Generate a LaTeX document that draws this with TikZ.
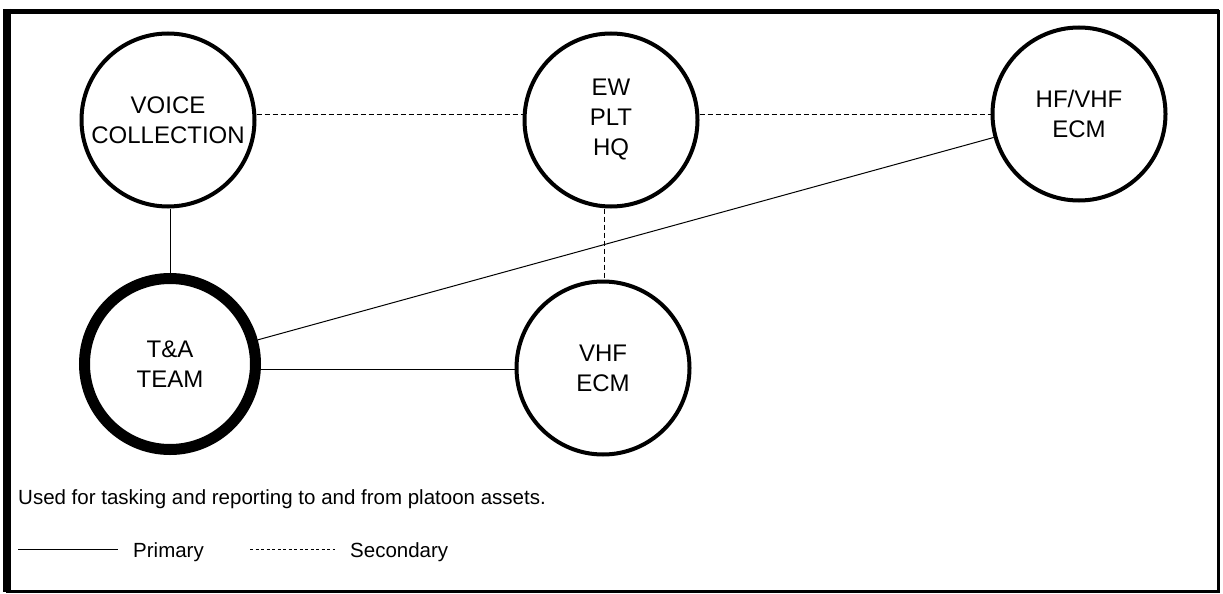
\documentclass[tikz,border=0pt]{standalone}
\usepackage{fontspec}
\setmainfont{Liberation Sans}
\begin{document}
\begin{tikzpicture}[x=1pt,y=-1pt,
  unit/.style={circle,draw,line width=4pt,minimum size=173pt,inner sep=0pt,align=center,font=\fontsize{24}{30}\selectfont},
  team/.style={unit,line width=11pt,minimum size=171pt},
  prim/.style={line width=1pt},
  sec/.style={line width=1pt,dash pattern=on 5pt off 3pt},
  lbl/.style={anchor=west,inner sep=0pt,font=\fontsize{20.5}{24}\selectfont}]
\useasboundingbox (0,0) rectangle (1223,594);
\fill[white] (0,0) rectangle (1223,594);
\draw[line width=5pt] (6,12) -- (1219,12);
\draw[line width=8pt] (7,9) -- (7,592);
\draw[line width=3pt] (1218,10) -- (1218,591) -- (6,591);
\node[unit] (voice) at (168,120) {VOICE\\COLLECTION};
\node[unit] (ew) at (611,120) {EW\\PLT\\HQ};
\node[unit] (hf) at (1079,114) {HF/VHF\\ECM};
\node[team] (ta) at (170,364) {T\&A\\TEAM};
\node[unit] (vhf) at (603,368) {VHF\\ECM};
\draw[sec] (voice.east |- 0,114) -- (ew.west |- 0,114);
\draw[sec] (ew.east |- 0,114) -- (hf.west |- 0,114);
\draw[sec] (ew.south -| 604,0) -- (vhf.north -| 604,0);
\draw[prim] (voice.south -| 170,0) -- (ta.north -| 170,0);
\draw[prim] (ta.east |- 0,369) -- (vhf.west |- 0,369);
\draw[prim] (ta) -- (hf);
\node[lbl] (note) at (18,499) {Used for tasking and reporting to and from platoon assets.};
\coordinate (p1) at (18,549);
\coordinate (p2) at (118,549);
\draw[prim] (p1) -- (p2);
\node[lbl] (primary) at (133,552) {Primary};
\coordinate (s1) at (250,549);
\coordinate (s2) at (335,549);
\draw[line width=0.8pt,dash pattern=on 3pt off 2.5pt] (s1) -- (s2);
\node[lbl] (secondary) at (350,552) {Secondary};
\end{tikzpicture}
\end{document}
